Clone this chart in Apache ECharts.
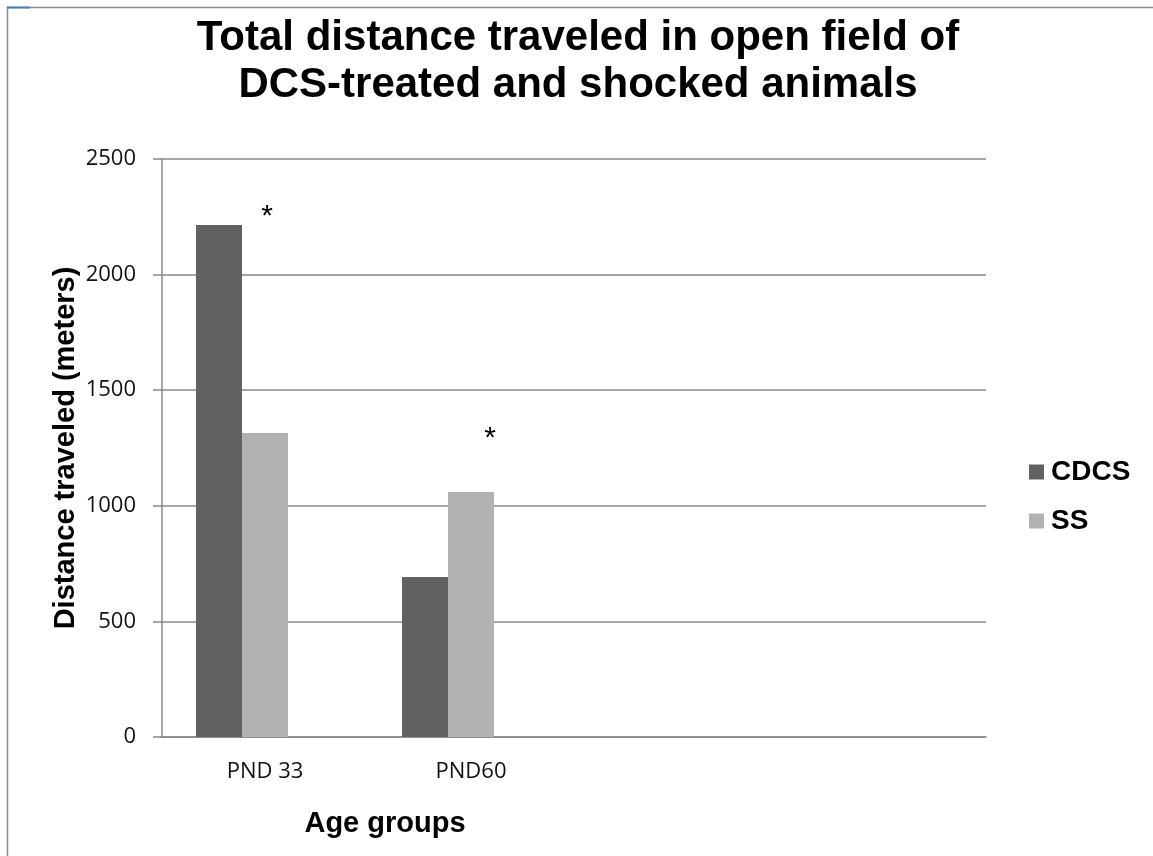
<!DOCTYPE html>
<html>
<head>
<meta charset="utf-8">
<title>Total distance traveled</title>
<script src="https://cdn.jsdelivr.net/npm/echarts@6/dist/echarts.min.js"></script>
<style>
    html, body {margin: 0; padding: 0; background: #fff;}
    #chart {width: 1153px; height: 856px;}
</style>
</head>
<body>
<div id="chart"></div>
<script>
// values
var categories = ['PND 33', 'PND60', '', ''];
var cdcs = [2215, 692];
var ss = [1315, 1060];
var blank = [null, null];   // third (empty) series in the original, keeps the bar offsets
var yTicks = [0, 500, 1000, 1500, 2000, 2500];
// significance stars: [category, value]
var stars = [['PND 33', 2250], ['PND60', 1290]];
var starShift = [[2, 0], [19, 0]];

var gridColor = '#898989';
var sansBold = '"Liberation Sans", Arial, sans-serif';
var tickFont = '"Open Sans", "Noto Sans", sans-serif';

var chart = echarts.init(document.getElementById('chart'));

var opt = {
    backgroundColor: '#fff',
    animation: false,
    title: {
        text: 'Total distance traveled in open field of\nDCS-treated and shocked animals',
        left: 573,
        textAlign: 'center',
        top: 10,
        textStyle: {fontFamily: sansBold, fontWeight: 'bold', fontSize: 42, lineHeight: 47, color: '#000'}
    },
    legend: {
        orient: 'vertical',
        left: 1024,
        top: 451,
        itemWidth: 15,
        itemHeight: 15,
        itemGap: 17,
        icon: 'rect',
        data: ['CDCS', 'SS'],
        textStyle: {fontFamily: sansBold, fontWeight: 'bold', fontSize: 28, lineHeight: 32, color: '#000', padding: [0, 0, 0, 2]}
    },
    grid: {left: 162, right: 167, top: 159, bottom: 119, containLabel: false},
    xAxis: {
        type: 'category',
        data: categories,
        name: 'Age groups',
        nameLocation: 'middle',
        nameGap: 72,
        nameMoveOverlap: false,
        nameTextStyle: {fontFamily: sansBold, fontWeight: 'bold', fontSize: 29, color: '#000', padding: [0, 378, 0, 0]},
        axisLine: {lineStyle: {color: gridColor, width: 1.5}},
        axisTick: {show: false},
        axisLabel: {margin: 24, fontFamily: tickFont, fontSize: 22, color: '#111'}
    },
    yAxis: {
        type: 'value',
        min: yTicks[0],
        max: yTicks[yTicks.length - 1],
        interval: 500,
        name: 'Distance traveled (meters)',
        nameLocation: 'middle',
        nameGap: 82,
        nameMoveOverlap: false,
        nameTextStyle: {fontFamily: sansBold, fontWeight: 'bold', fontSize: 29, color: '#000'},
        axisLine: {show: true, lineStyle: {color: gridColor, width: 1.5}},
        axisTick: {show: true, length: 9, lineStyle: {color: gridColor, width: 1.5}},
        splitLine: {lineStyle: {color: gridColor, width: 1.5}},
        axisLabel: {
            margin: 26, fontFamily: tickFont, fontSize: 22, color: '#111',
            formatter: function (v) { return String(v); }
        }
    },
    series: [{
        name: 'CDCS',
        type: 'bar',
        data: cdcs,
        barWidth: 46,
        barGap: '0%',
        itemStyle: {color: '#616161'}
    }, {
        name: 'SS',
        type: 'bar',
        data: ss,
        barWidth: 46,
        barGap: '0%',
        itemStyle: {color: '#b2b2b2'},
        markPoint: {
            symbol: 'circle',
            symbolSize: 0,
            label: {show: true, position: 'inside', formatter: '*', fontFamily: sansBold, fontSize: 30, color: '#000'},
            data: stars.map(function (s, i) {
                return {coord: s, symbolOffset: starShift[i]};
            })
        }
    }, {
        name: 'blank',
        type: 'bar',
        data: blank,
        barWidth: 46,
        barGap: '0%'
    }],
    graphic: [{
        type: 'rect',
        shape: {x: 7.5, y: 7.5, width: 1300, height: 1000},
        style: {fill: 'none', stroke: '#8c8c8c', lineWidth: 1.5},
        silent: true
    }, {
        type: 'line',
        shape: {x1: 7, y1: 7.5, x2: 30, y2: 7.5},
        style: {stroke: '#4a7ebb', lineWidth: 2},
        silent: true
    }]
};

chart.setOption(opt);
window.addEventListener('resize', function () {
    chart.resize();
});
</script>
</body>
</html>
